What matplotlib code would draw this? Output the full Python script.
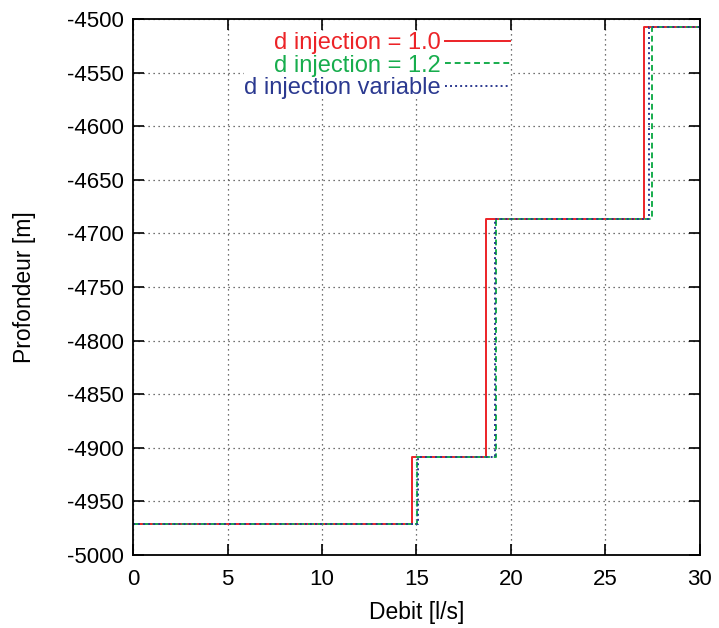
import numpy as np
import matplotlib.pyplot as plt

plt.rcParams['font.family'] = ['Liberation Sans', 'DejaVu Sans']
plt.rcParams['axes.unicode_minus'] = False

# depth levels (m) and the flow (l/s) at which each step starts
depth = [-4971, -4908.5, -4686.5, -4507, -4507]
debit_10 = [0, 14.79, 18.69, 27.08, 30]
debit_12 = [0, 15.04, 19.22, 27.47, 30]
debit_var = [0, 15.06, 19.18, 27.31, 30]

labels = ['d injection = 1.0', 'd injection = 1.2', 'd injection variable']
colors = ['#ec2327', '#17ad4d', '#2b3990']

fig = plt.figure(figsize=(7.19, 6.28), dpi=100)
ax = fig.add_axes([133.3 / 719, 1 - 554.7 / 628, 566.2 / 719, 535.4 / 628])

ax.step(debit_10, depth, where='post', color=colors[0], lw=1.4, label=labels[0])
ax.step(debit_12, depth, where='post', color=colors[1], lw=1.4,
        linestyle=(0, (3, 2)), label=labels[1])
ax.step(debit_var, depth, where='post', color=colors[2], lw=1.4,
        linestyle=(0, (1, 1.6)), label=labels[2])

ax.set_xlim(0, 30)
ax.set_ylim(-5000, -4500)
ax.set_xticks(np.arange(0, 31, 5))
ax.set_yticks(np.arange(-5000, -4499, 50))
ax.grid(True, color='#444444', linestyle=(0, (1, 3)), lw=0.9)
ax.tick_params(direction='in', top=True, right=True, length=8, width=1.2,
               labelsize=16)
ax.tick_params(axis='x', pad=10.5)
ax.tick_params(axis='y', pad=7)
for s in ax.spines.values():
    s.set_linewidth(1.3)

ax.set_xlabel('Debit [l/s]', fontsize=16.5, labelpad=8)
ax.set_ylabel('Profondeur [m]', fontsize=16.5, labelpad=22)

leg = ax.legend(loc='upper right', bbox_to_anchor=(0.6655, 0.976), markerfirst=False,
                labelcolor='linecolor', fontsize=17, handlelength=2.75,
                handletextpad=0.2, labelspacing=0.02, alignment='right',
                frameon=True, framealpha=1, edgecolor='none', fancybox=False,
                borderpad=0.0, borderaxespad=0.0)
leg.set_zorder(5)

fig.savefig('out.png', dpi=100)
